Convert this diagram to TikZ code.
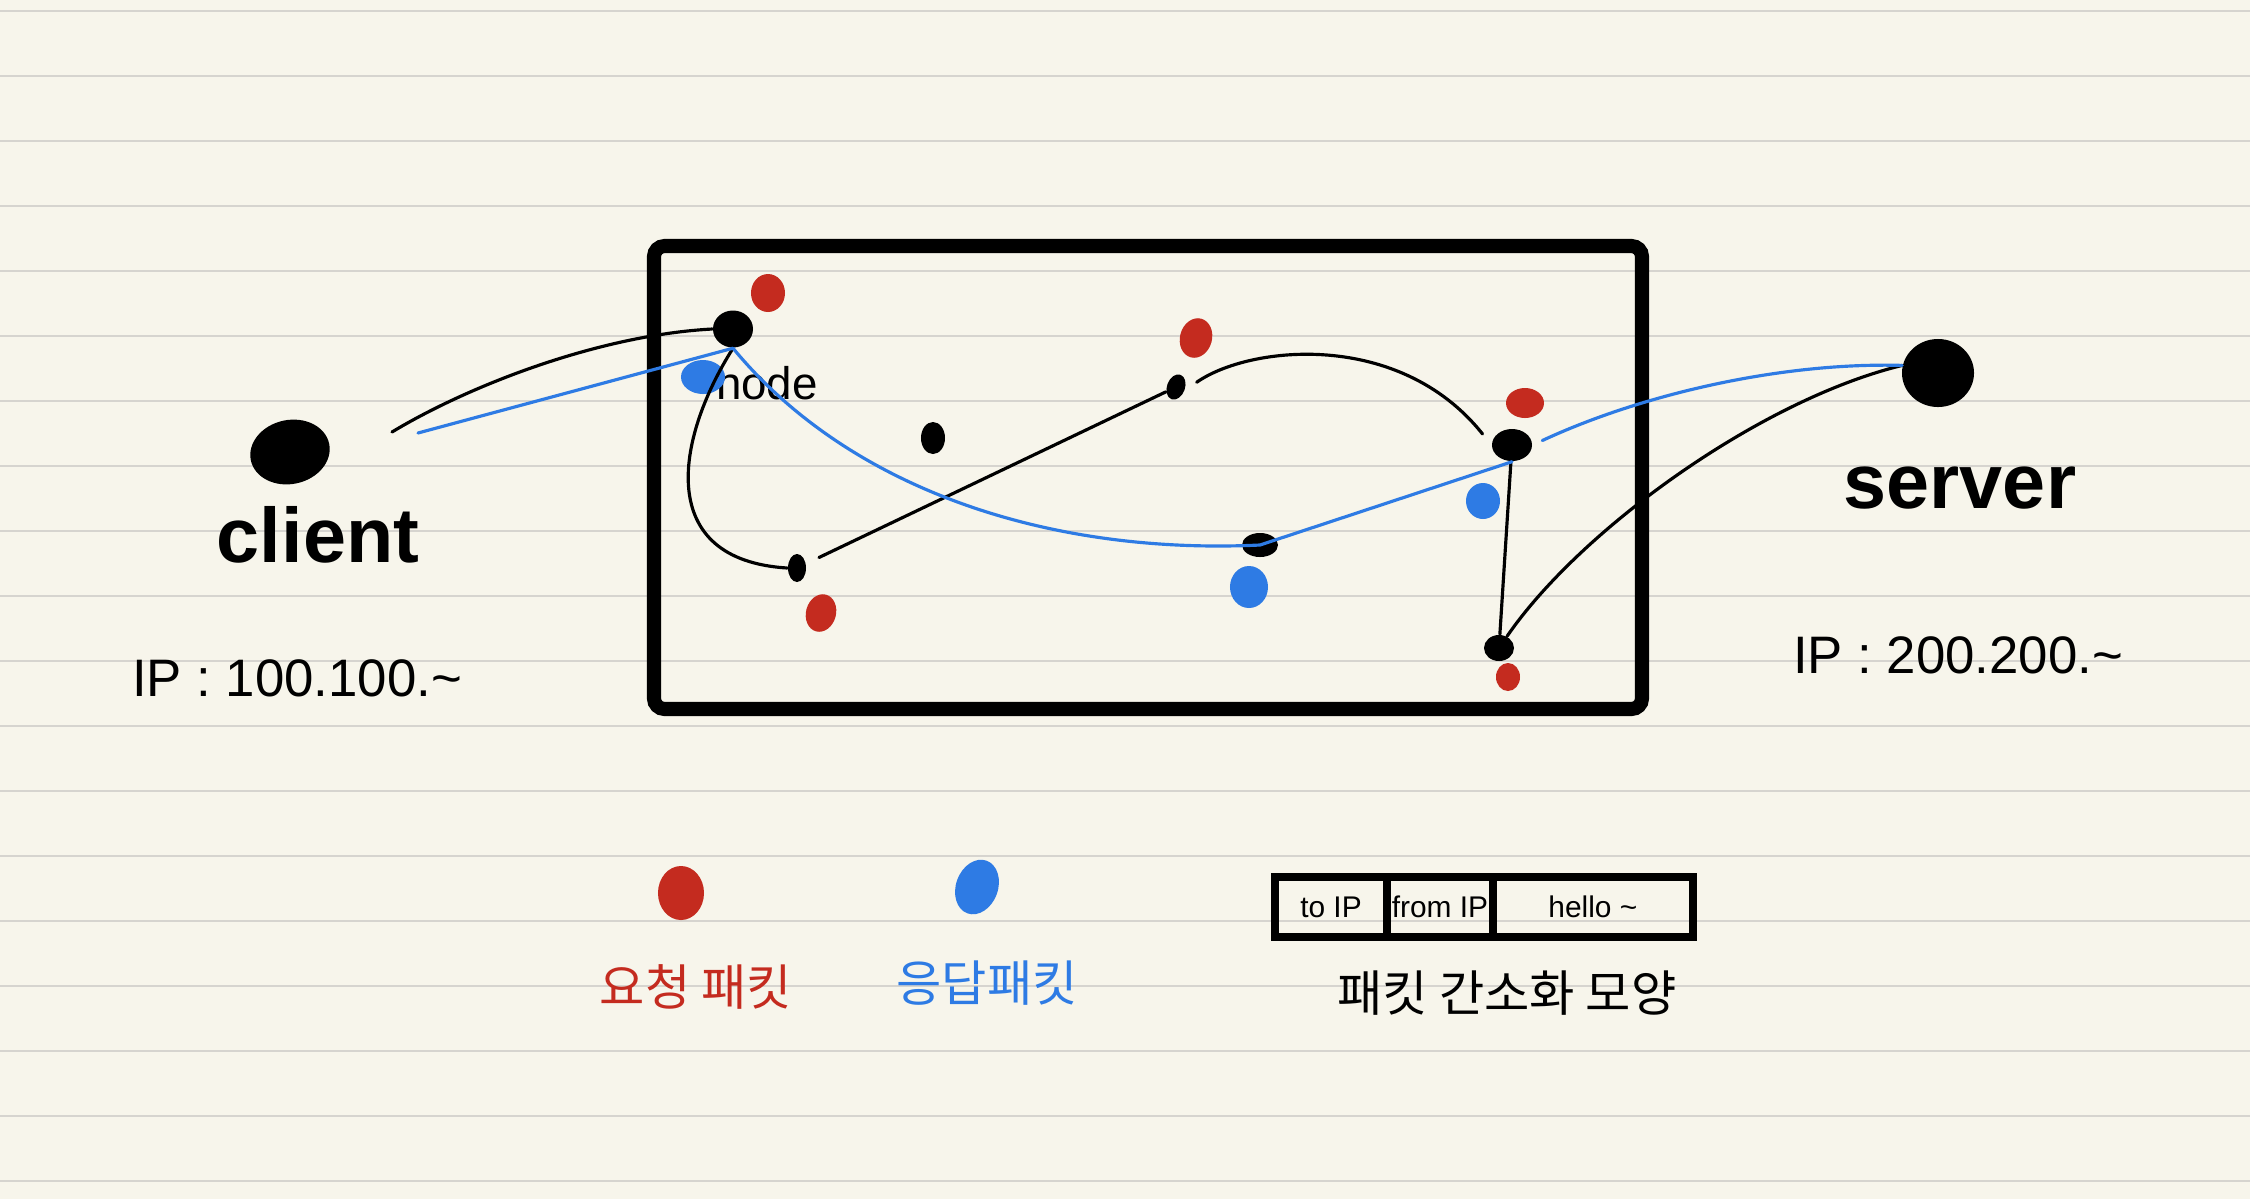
\documentclass[tikz,border=0pt]{standalone}
\usepackage{fontspec}
\setmainfont{Liberation Sans}
\newfontfamily\krfont{Noto Sans CJK KR}
\usepackage{tikz}
\usetikzlibrary{shapes.geometric,positioning}
\definecolor{npaper}{RGB}{247,245,235}
\definecolor{nrule}{RGB}{214,212,207}
\definecolor{nred}{RGB}{196,43,31}
\definecolor{nblue}{RGB}{46,123,228}
\tikzset{
  blob/.style={ellipse, fill=black, inner sep=0pt},
  reqdot/.style={ellipse, fill=nred, inner sep=0pt},
  resdot/.style={ellipse, fill=nblue, inner sep=0pt},
  link/.style={draw=black, line width=0.9pt, line cap=round},
  blink/.style={draw=nblue, line width=0.9pt, line cap=round},
  rule/.style={draw=nrule, line width=0.75pt},
  hand/.style={font=\fontsize{22}{24}\selectfont\bfseries, inner sep=0pt},
  iplbl/.style={font=\fontsize{15}{17}\selectfont, inner sep=0pt},
  krlbl/.style={font=\fontsize{14}{16}\selectfont\krfont, inner sep=0pt},
  cell/.style={draw=black, line width=1.1pt, minimum height=0.56cm,
    inner sep=0pt, font=\fontsize{8.5}{10}\selectfont}
}

\begin{document}
\begin{tikzpicture}[x=0.01cm, y=-0.01cm]
  % paper
  \fill[npaper] (0,0) rectangle (2250,1199);
  \useasboundingbox (0,0) rectangle (2250,1199);
  \foreach \k in {0,...,18}
    \draw[rule] (0,11+65*\k) -- (2250,11+65*\k);

  % network
  \draw[line width=4pt, rounded corners=3pt] (654,246) rectangle (1642,709);

  % hosts
  \node[blob, minimum width=0.8cm, minimum height=0.64cm, rotate=12] (client) at (290,452) {};
  \node[hand] (clientlbl) at (318,535) {client};
  \node[iplbl] (clientip) at (297,678) {IP : 100.100.\textasciitilde};
  \node[blob, minimum width=0.72cm, minimum height=0.68cm] (server) at (1938,373) {};
  \node[hand] (serverlbl) at (1960,488) {server};
  \node[iplbl] (serverip) at (1958,655) {IP : 200.200.\textasciitilde};

  % routers
  \node[blob, minimum width=0.4cm, minimum height=0.37cm] (n1) at (733,329) {};
  \node[font=\fontsize{13}{15}\selectfont, inner sep=0pt] (n1lbl) at (767,383) {node};
  \node[blob, minimum width=0.18cm, minimum height=0.28cm] (n2) at (797,568) {};
  \node[blob, minimum width=0.24cm, minimum height=0.32cm] (n3) at (933,438) {};
  \node[blob, minimum width=0.18cm, minimum height=0.26cm, rotate=-20] (n4) at (1176,387) {};
  \node[blob, minimum width=0.36cm, minimum height=0.24cm] (n5) at (1260,545) {};
  \node[blob, minimum width=0.4cm, minimum height=0.32cm] (n6) at (1512,445) {};
  \node[blob, minimum width=0.3cm, minimum height=0.26cm] (n7) at (1499,648) {};

  % request packets
  \node[reqdot, minimum width=0.34cm, minimum height=0.38cm] (r1) at (768,293) {};
  \node[reqdot, minimum width=0.3cm, minimum height=0.38cm, rotate=-15] (r2) at (821,613) {};
  \node[reqdot, minimum width=0.32cm, minimum height=0.4cm, rotate=-15] (r4) at (1196,338) {};
  \node[reqdot, minimum width=0.38cm, minimum height=0.3cm] (r6) at (1525,403) {};
  \node[reqdot, minimum width=0.24cm, minimum height=0.28cm] (r7) at (1508,677) {};

  % response packets
  \node[resdot, minimum width=0.44cm, minimum height=0.34cm] (b1) at (703,377) {};
  \node[resdot, minimum width=0.38cm, minimum height=0.42cm] (b5) at (1249,587) {};
  \node[resdot, minimum width=0.34cm, minimum height=0.36cm] (b6) at (1483,501) {};

  % request path
  \coordinate (ck) at (392,432);
  \draw[link] (ck) .. controls (470,385) and (600,335) .. (n1.west);
  \draw[link] (n1.south) .. controls (675,440) and (655,560) .. (n2.west);
  \draw[link, shorten <=4pt] (n2) -- (n4);
  \draw[link, shorten <=4pt, shorten >=4pt] (n4.east) .. controls (1250,345) and (1400,330) .. (n6.west);
  \draw[link] (n6) -- (n7);
  \draw[link] (n7) .. controls (1580,530) and (1760,400) .. (server.168);

  % response path
  \coordinate (cb) at (418,433);
  \draw[blink] (cb) -- (n1.south);
  \draw[blink] (n1.south) .. controls (850,490) and (1050,555) .. (n5.center) -- (n6.south);
  \draw[blink, shorten <=3pt] (n6.east) .. controls (1640,395) and (1780,362) .. (server.168);

  % legend
  \node[reqdot, minimum width=0.46cm, minimum height=0.54cm] (reqkey) at (681,893) {};
  \node[krlbl, text=nred] (reqtxt) at (696,987) {요청 패킷};
  \node[resdot, minimum width=0.42cm, minimum height=0.56cm, rotate=-20] (reskey) at (977,887) {};
  \node[krlbl, text=nblue] (restxt) at (987,983) {응답패킷};

  % packet
  \node[cell, minimum width=1.08cm] (toip) at (1331,907) {to IP};
  \node[cell, minimum width=1.02cm, right=0pt of toip] (fromip) {from IP};
  \node[cell, minimum width=1.96cm, right=0pt of fromip] (hello) {hello \textasciitilde};
  \draw[line width=2.3pt] (toip.north west) rectangle (hello.south east);
  \node[krlbl] (pktcap) at (1507,993) {패킷 간소화 모양};
\end{tikzpicture}
\end{document}
